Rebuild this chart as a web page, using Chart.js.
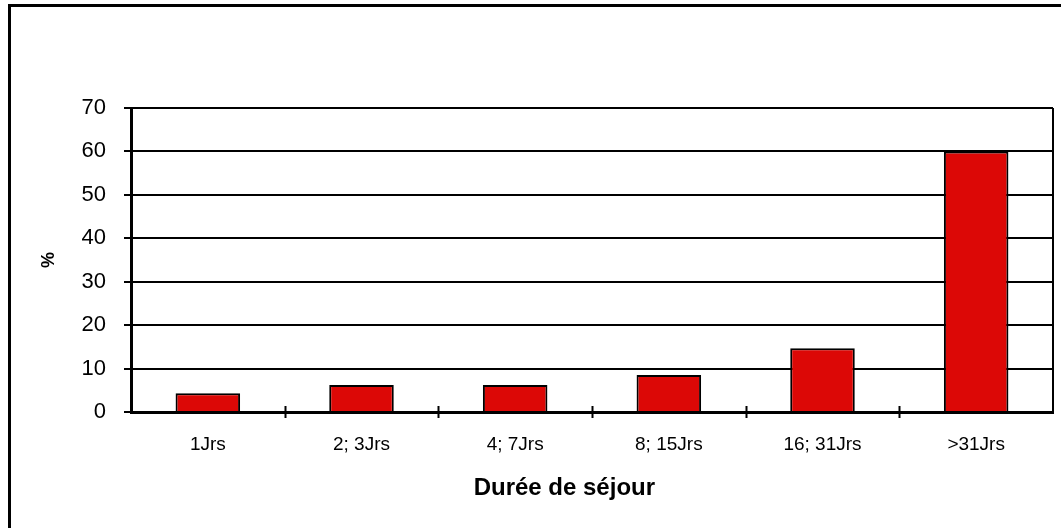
<!DOCTYPE html>
<html>
<head>
<meta charset="utf-8">
<script src="https://cdn.jsdelivr.net/npm/chart.js@4"></script>
<style>
  html, body { margin: 0; padding: 0; background: #fff; }
  #wrap { position: relative; width: 1061px; height: 528px; }
</style>
</head>
<body>
<div id="wrap"><canvas id="dureeChart" width="1061" height="528"></canvas></div>
<script>
const categories = ['1Jrs', '2; 3Jrs', '4; 7Jrs', '8; 15Jrs', '16; 31Jrs', '>31Jrs'];
const percentages = [4.3, 6.2, 6.2, 8.5, 14.7, 60];
const yTicks = [0, 10, 20, 30, 40, 50, 60, 70];
const xTitle = 'Durée de séjour';

const FONT = "'Liberation Sans', Arial, sans-serif";

// outer frame, plot frame, x ticks that cross the axis, x title (sits left of centre)
const framePlugin = {
    id: 'frame',
    afterDraw: (chart) => {
        const ctx = chart.ctx;
        const area = chart.chartArea;
        ctx.save();
        ctx.strokeStyle = '#000';
        ctx.lineWidth = 3;
        ctx.beginPath();
        ctx.moveTo(9.5, 560);
        ctx.lineTo(9.5, 5.5);
        ctx.lineTo(1100, 5.5);
        ctx.stroke();

        ctx.lineWidth = 2;
        ctx.beginPath();
        ctx.moveTo(area.right, area.top);
        ctx.lineTo(area.right, area.bottom);
        ctx.stroke();

        const x = chart.scales.x;
        const step = (area.right - area.left) / categories.length;
        ctx.beginPath();
        for (let i = 1; i < categories.length; i++) {
            const px = Math.round(x.getPixelForValue(i) - step / 2) + 0.5;
            ctx.moveTo(px, area.bottom - 6);
            ctx.lineTo(px, area.bottom + 6);
        }
        ctx.stroke();

        ctx.fillStyle = '#000';
        ctx.font = "bold 24px " + FONT;
        ctx.textAlign = 'center';
        ctx.textBaseline = 'alphabetic';
        ctx.fillText(xTitle, area.left + (area.right - area.left) * 0.47, 495);
        ctx.restore();
    }
};

const ctx = document.getElementById('dureeChart').getContext('2d');
new Chart(ctx, {
    type: 'bar',
    data: {
        labels: categories,
        datasets: [{
            label: '%',
            data: percentages,
            backgroundColor: '#dc0806',
            borderColor: '#000',
            borderWidth: 2,
            barPercentage: 0.42,
            categoryPercentage: 1
        }]
    },
    options: {
        responsive: false,
        animation: false,
        layout: { padding: { top: 108, right: 8, left: 0, bottom: 0 } },
        plugins: {
            legend: { display: false },
            tooltip: { enabled: false }
        },
        scales: {
            x: {
                grid: { display: false },
                border: { color: '#000', width: 3 },
                ticks: {
                    color: '#000',
                    font: { family: FONT, size: 19 },
                    padding: 13,
                    maxRotation: 0
                },
                afterFit: (scale) => { scale.height = 116; }
            },
            y: {
                min: 0,
                max: 70,
                afterBuildTicks: (scale) => {
                    scale.ticks = yTicks.map(v => ({ value: v }));
                },
                grid: {
                    color: '#000',
                    lineWidth: 2,
                    tickLength: 7
                },
                border: { color: '#000', width: 3 },
                ticks: {
                    color: '#000',
                    font: { family: FONT, size: 22 },
                    padding: 18
                },
                title: {
                    display: true,
                    text: '%',
                    color: '#000',
                    font: { family: FONT, size: 18, weight: 'bold' },
                    padding: { top: 38, bottom: 0 }
                },
                afterFit: (scale) => { scale.width = 131; }
            }
        }
    },
    plugins: [framePlugin]
});
</script>
</body>
</html>
